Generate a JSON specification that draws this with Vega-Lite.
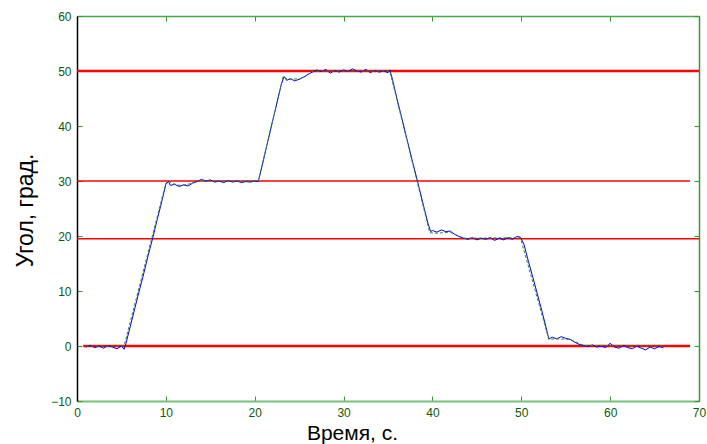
{
"$schema": "https://vega.github.io/schema/vega-lite/v6.json",
"width": 622, "height": 385, "autosize": "none",
"padding": {"left": 77, "top": 16, "right": 8, "bottom": 43},
"config": {"view": {"stroke": null}, "font": "Liberation Sans"},
"datasets": {
"meas": [
{"t":1.0,"v":-0.2},{"t":1.5,"v":0.1},{"t":2.0,"v":-0.3},{"t":2.5,"v":0.0},{"t":3.0,"v":-0.4},{"t":3.5,"v":0.1},{"t":4.0,"v":-0.2},{"t":4.5,"v":-0.5},{"t":5.0,"v":0.0},{"t":5.3,"v":-0.6},{"t":5.5,"v":0.4},{"t":6.0,"v":3.6},{"t":6.5,"v":6.8},{"t":7.0,"v":10.0},{"t":7.5,"v":13.1},{"t":8.0,"v":16.4},{"t":8.5,"v":19.5},{"t":9.0,"v":22.8},{"t":9.5,"v":26.0},{"t":10.0,"v":29.4},{"t":10.3,"v":29.9},{"t":10.5,"v":29.2},{"t":11.0,"v":29.4},{"t":11.5,"v":29.0},{"t":12.0,"v":29.3},{"t":12.5,"v":29.1},{"t":13.0,"v":29.6},{"t":13.5,"v":29.9},{"t":14.0,"v":30.3},{"t":14.5,"v":30.0},{"t":15.0,"v":30.2},{"t":15.5,"v":29.8},{"t":16.0,"v":30.0},{"t":16.5,"v":29.7},{"t":17.0,"v":30.1},{"t":17.5,"v":29.8},{"t":18.0,"v":30.0},{"t":18.5,"v":29.7},{"t":19.0,"v":29.9},{"t":19.5,"v":29.8},{"t":20.0,"v":30.0},{"t":20.4,"v":29.9},{"t":21.0,"v":33.9},{"t":21.5,"v":37.4},{"t":22.0,"v":40.8},{"t":22.5,"v":44.2},{"t":23.0,"v":47.6},{"t":23.3,"v":49.0},{"t":23.6,"v":48.3},{"t":24.0,"v":48.6},{"t":24.5,"v":48.2},{"t":25.0,"v":48.5},{"t":25.5,"v":48.9},{"t":26.0,"v":49.4},{"t":26.5,"v":49.8},{"t":27.0,"v":50.2},{"t":27.5,"v":49.9},{"t":28.0,"v":50.3},{"t":28.5,"v":49.6},{"t":29.0,"v":50.1},{"t":29.5,"v":49.8},{"t":30.0,"v":50.2},{"t":30.5,"v":49.9},{"t":31.0,"v":50.4},{"t":31.5,"v":50.0},{"t":32.0,"v":49.8},{"t":32.5,"v":50.3},{"t":33.0,"v":49.7},{"t":33.5,"v":50.1},{"t":34.0,"v":49.8},{"t":34.5,"v":50.0},{"t":35.0,"v":49.7},{"t":35.2,"v":50.2},{"t":35.5,"v":48.5},{"t":36.0,"v":45.0},{"t":36.5,"v":41.8},{"t":37.0,"v":38.5},{"t":37.5,"v":35.2},{"t":38.0,"v":32.0},{"t":38.5,"v":28.8},{"t":39.0,"v":25.5},{"t":39.5,"v":22.3},{"t":39.8,"v":20.8},{"t":40.0,"v":21.0},{"t":40.5,"v":20.7},{"t":41.0,"v":21.1},{"t":41.5,"v":20.8},{"t":42.0,"v":20.9},{"t":42.5,"v":20.3},{"t":43.0,"v":19.9},{"t":43.5,"v":19.6},{"t":44.0,"v":19.4},{"t":44.5,"v":19.7},{"t":45.0,"v":19.3},{"t":45.5,"v":19.6},{"t":46.0,"v":19.4},{"t":46.5,"v":19.7},{"t":47.0,"v":19.2},{"t":47.5,"v":19.6},{"t":48.0,"v":19.3},{"t":48.5,"v":19.7},{"t":49.0,"v":19.4},{"t":49.5,"v":19.9},{"t":49.9,"v":19.8},{"t":50.3,"v":18.5},{"t":50.8,"v":15.4},{"t":51.3,"v":12.5},{"t":51.8,"v":9.5},{"t":52.3,"v":6.5},{"t":52.8,"v":3.3},{"t":53.1,"v":1.3},{"t":53.5,"v":1.6},{"t":54.0,"v":1.3},{"t":54.5,"v":1.7},{"t":55.0,"v":1.4},{"t":55.5,"v":1.2},{"t":56.0,"v":0.7},{"t":56.5,"v":0.3},{"t":57.0,"v":0.1},{"t":57.5,"v":-0.1},{"t":58.0,"v":0.2},{"t":58.5,"v":-0.2},{"t":59.0,"v":0.0},{"t":59.5,"v":-0.3},{"t":60.0,"v":0.5},{"t":60.5,"v":-0.2},{"t":61.0,"v":-0.4},{"t":61.5,"v":0.1},{"t":62.0,"v":-0.3},{"t":62.5,"v":-0.5},{"t":63.0,"v":0.0},{"t":63.5,"v":-0.4},{"t":64.0,"v":-0.7},{"t":64.5,"v":-0.2},{"t":65.0,"v":-0.5},{"t":65.5,"v":-0.1},{"t":66.0,"v":-0.3}
],
"model": [
{"t":1.0,"v":0},{"t":5.3,"v":0},{"t":10.0,"v":29.6},{"t":10.3,"v":30.0},{"t":10.8,"v":29.5},{"t":11.6,"v":29.2},{"t":12.5,"v":29.4},{"t":13.5,"v":30.0},{"t":20.4,"v":30.0},{"t":23.2,"v":49.0},{"t":23.7,"v":48.5},{"t":25.3,"v":48.6},{"t":26.6,"v":50.0},{"t":35.2,"v":50.0},{"t":39.7,"v":20.6},{"t":40.5,"v":20.5},{"t":42.0,"v":20.7},{"t":43.5,"v":19.6},{"t":49.9,"v":19.7},{"t":53.1,"v":1.2},{"t":53.8,"v":1.3},{"t":55.5,"v":1.2},{"t":57.0,"v":0.1},{"t":66.0,"v":0}
],
"thick": [{"level":50,"start":0,"end":70},{"level":0,"start":0.7,"end":69}],
"thin": [{"level":30,"start":0,"end":69},{"level":19.5,"start":0,"end":70}]
},
"layer": [
{
"data": {"name": "thin"},
"mark": {"type": "rule", "color": "#ff0000", "strokeWidth": 1.3},
"encoding": {
"x": {"field": "start", "type": "quantitative", "scale": {"domain": [0, 70], "nice": false},
"axis": {"orient": "top", "title": null, "labels": false, "values": [0,10,20,30,40,50,60,70], "tickSize": -5, "tickColor": "#339933", "domainColor": "#44aa44", "domainWidth": 1.5, "grid": false}},
"x2": {"field": "end"},
"y": {"field": "level", "type": "quantitative", "scale": {"domain": [-10, 60], "nice": false},
"axis": {"orient": "right", "title": null, "labels": false, "values": [-10,0,10,20,30,40,50,60], "tickSize": -5, "tickColor": "#339933", "domainColor": "#339933", "domainWidth": 1.5, "grid": false}}
}
},
{
"data": {"name": "thick"},
"mark": {"type": "rule", "color": "#ff0000", "strokeWidth": 2.5},
"encoding": {
"x": {"field": "start", "type": "quantitative", "scale": {"domain": [0, 70], "nice": false},
"axis": {"orient": "bottom", "title": "Время, с.", "values": [0,10,20,30,40,50,60,70], "tickSize": -5, "tickColor": "#339933", "domainColor": "#77c077", "domainWidth": 2, "grid": false,
"labelFontSize": 12, "labelColor": "#0b5a0b", "labelPadding": 11, "labelFlush": false,
"titleFontSize": 21, "titleFontWeight": "normal", "titleColor": "#000000", "titleX": 275, "titleY": 38, "titleBaseline": "alphabetic", "titleAlign": "center"}},
"x2": {"field": "end"},
"y": {"field": "level", "type": "quantitative", "scale": {"domain": [-10, 60], "nice": false},
"axis": {"orient": "left", "title": "Угол, град.", "values": [-10,0,10,20,30,40,50,60], "tickSize": -5, "tickColor": "#339933", "domainColor": "#000000", "domainWidth": 1.5, "grid": false,
"labelFontSize": 12, "labelColor": "#0b5a0b", "labelPadding": 11, "labelFlush": false,
"titleFontSize": 23, "titleFontWeight": "normal", "titleColor": "#000000", "titleX": -45, "titleY": 194, "titleBaseline": "alphabetic", "titleAlign": "center", "titleAngle": -90}}
}
},
{
"data": {"name": "meas"},
"mark": {"type": "line", "color": "#0000ff", "strokeWidth": 1},
"encoding": {
"x": {"field": "t", "type": "quantitative", "scale": {"domain": [0, 70], "nice": false}, "axis": null},
"y": {"field": "v", "type": "quantitative", "scale": {"domain": [-10, 60], "nice": false}, "axis": null}
}
},
{
"data": {"name": "model"},
"mark": {"type": "line", "color": "#2e8b2e", "strokeWidth": 1, "strokeDash": [3, 2]},
"encoding": {
"x": {"field": "t", "type": "quantitative", "scale": {"domain": [0, 70], "nice": false}, "axis": null},
"y": {"field": "v", "type": "quantitative", "scale": {"domain": [-10, 60], "nice": false}, "axis": null}
}
}
],
"resolve": {"axis": {"x": "independent", "y": "independent"}}
}
